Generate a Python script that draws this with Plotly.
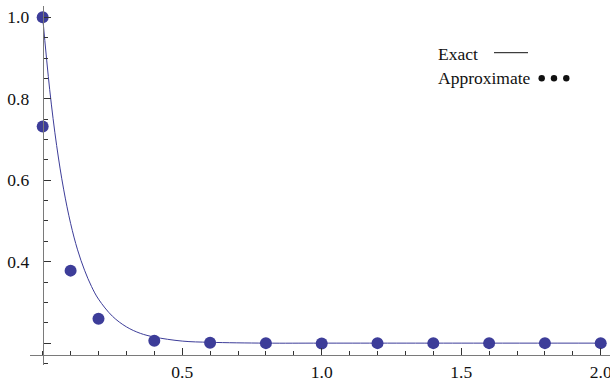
import plotly.graph_objects as go

# ---- data ----
curve_t = [0, 0.025, 0.05, 0.075, 0.1, 0.125, 0.15, 0.175, 0.2, 0.25, 0.3, 0.35, 0.4, 0.5, 0.6, 0.8, 1.0, 1.5, 2.0]
curve_v = [1.0, 0.823, 0.685, 0.578, 0.494, 0.429, 0.379, 0.339, 0.308, 0.266, 0.240, 0.224, 0.215, 0.205, 0.202, 0.200, 0.200, 0.200, 0.200]

approx_t = [0, 0, 0.1, 0.2, 0.4, 0.6, 0.8, 1.0, 1.2, 1.4, 1.6, 1.8, 2.0]
approx_v = [1.0, 0.732, 0.378, 0.260, 0.206, 0.201, 0.200, 0.199, 0.200, 0.200, 0.200, 0.200, 0.200]

x_tickvals = [0.5, 1.0, 1.5, 2.0]
x_ticktext = ["0.5", "1.0", "1.5", "2.0"]
y_tickvals = [0.2, 0.4, 0.6, 0.8, 1.0]
y_ticktext = ["", "0.4", "0.6", "0.8", "1.0"]
legend_labels = ["Exact", "Approximate"]

# ---- styling ----
BLUE = "#3d3d99"
FONT = "Liberation Serif"
FS = 17.5
x_range = [-0.0455, 2.0333]
y_range = [0.1463, 1.0277]
x_axis_at_y = 0.1709   # where the horizontal axis crosses
y_axis_at_x = 0.0      # where the vertical axis crosses

W, H = 610, 384
ML, MR, MT, MB = 30, 0, 6, 19
PW, PH = W - ML - MR, H - MT - MB


def px_to_paper(px, py):
    return (px - ML) / PW, (H - MB - py) / PH


fig = go.Figure()
fig.add_trace(go.Scatter(x=curve_t, y=curve_v, mode="lines",
                         line=dict(color=BLUE, width=1, shape="spline"),
                         hoverinfo="skip"))
fig.add_trace(go.Scatter(x=approx_t, y=approx_v, mode="markers",
                         marker=dict(color=BLUE, size=12, line=dict(width=0)),
                         cliponaxis=False))

xpos = (x_axis_at_y - y_range[0]) / (y_range[1] - y_range[0])
ypos = (y_axis_at_x - x_range[0]) / (x_range[1] - x_range[0])

axis_common = dict(showgrid=False, zeroline=False, showline=True,
                   linecolor="#7a7a7a", linewidth=1,
                   ticks="inside", tickcolor="#333", tickwidth=1, ticklen=7,
                   tickfont=dict(family=FONT, size=FS, color="#111"),
                   anchor="free", tickmode="array", automargin=False,
                   ticklabeloverflow="allow")

fig.update_layout(
    width=W, height=H,
    font=dict(family=FONT, size=FS, color="#111"),
    margin=dict(l=ML, r=MR, t=MT, b=MB, autoexpand=False),
    plot_bgcolor="white", paper_bgcolor="white",
    showlegend=False,
    xaxis=dict(range=x_range, tickvals=x_tickvals, ticktext=x_ticktext,
               position=xpos, ticklabelstandoff=1,
               minor=dict(tickmode="linear", tick0=0, dtick=0.1, ticks="inside",
                          ticklen=4, tickcolor="#333", tickwidth=1),
               **axis_common),
    yaxis=dict(range=y_range, tickvals=y_tickvals, ticktext=y_ticktext,
               position=ypos, ticklabelstandoff=10,
               minor=dict(tickmode="linear", tick0=0, dtick=0.05, ticks="inside",
                          ticklen=4, tickcolor="#333", tickwidth=1),
               **axis_common),
)

# legend drawn manually (symbols sit to the right of the labels)
lx, ly1 = px_to_paper(436, 53.5)
_, ly2 = px_to_paper(436, 78.5)
fig.add_annotation(x=lx, y=ly1, xref="paper", yref="paper", text=legend_labels[0],
                   showarrow=False, xanchor="left", yanchor="middle",
                   font=dict(family=FONT, size=FS, color="#111"))
fig.add_annotation(x=lx, y=ly2, xref="paper", yref="paper", text=legend_labels[1],
                   showarrow=False, xanchor="left", yanchor="middle",
                   font=dict(family=FONT, size=FS, color="#111"))

sx0, sy = px_to_paper(494, 52.7)
sx1, _ = px_to_paper(528, 52.7)
fig.add_shape(type="line", xref="paper", yref="paper", x0=sx0, x1=sx1, y0=sy, y1=sy,
              line=dict(color="#111", width=1))
for dpx in (541.7, 554, 566.3):
    cx, cy = px_to_paper(dpx, 78.3)
    fig.add_shape(type="circle", xref="paper", yref="paper",
                  xsizemode="pixel", ysizemode="pixel", xanchor=cx, yanchor=cy,
                  x0=-3.2, x1=3.2, y0=-3.2, y1=3.2,
                  fillcolor="#111", line=dict(width=0))

fig.write_html("out.html", config={"displayModeBar": False},
               post_script="document.body.style.margin='0';document.body.style.padding='0';document.body.style.overflow='hidden';")
